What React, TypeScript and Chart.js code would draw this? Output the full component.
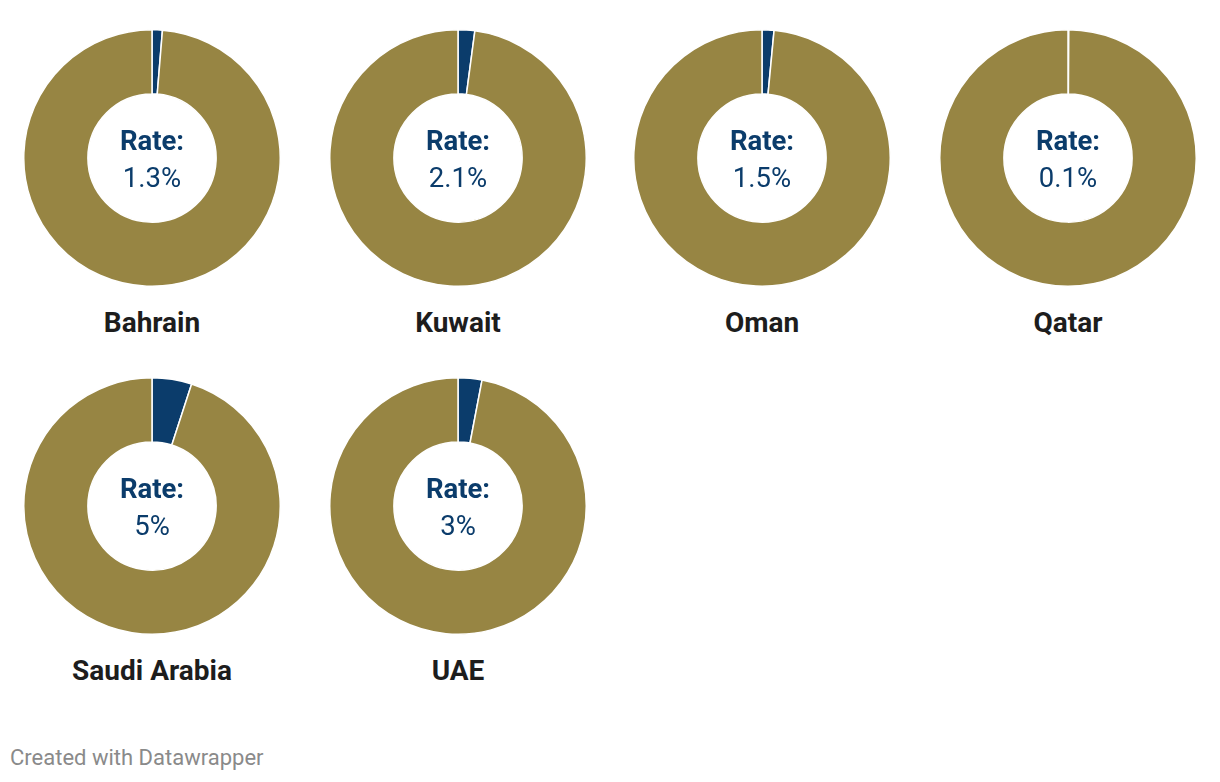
import React, { useEffect, useRef } from "react";
import { Chart, registerables } from "chart.js";

Chart.register(...registerables);

const countries = ["Bahrain", "Kuwait", "Oman", "Qatar", "Saudi Arabia", "UAE"];
const rates = [1.3, 2.1, 1.5, 0.1, 5, 3];
const rateLabels = ["1.3%", "2.1%", "1.5%", "0.1%", "5%", "3%"];
const sliceLabels = ["Rate", "Rest"];

const BLUE = "#0b3c6b";
const OLIVE = "#978543";

const colX = [152, 458, 762, 1068];
const rowY = [158, 506];
const R = 128;

function Donut({ idx }: { idx: number }) {
  const ref = useRef<HTMLCanvasElement | null>(null);
  useEffect(() => {
    if (!ref.current) return;
    const chart = new Chart(ref.current, {
      type: "doughnut",
      data: {
        labels: sliceLabels,
        datasets: [
          {
            data: [rates[idx], 100 - rates[idx]],
            backgroundColor: [BLUE, OLIVE],
            borderColor: "#ffffff",
            borderWidth: 1.5,
            hoverOffset: 0,
          },
        ],
      },
      options: {
        animation: false,
        responsive: false,
        cutout: "50%",
        layout: { padding: 0 },
        plugins: { legend: { display: false }, tooltip: { enabled: false } },
        events: [],
      },
    });
    return () => chart.destroy();
  }, [idx]);
  const cx = colX[idx % 4];
  const cy = rowY[Math.floor(idx / 4)];
  const size = R * 2 + 2;
  return (
    <>
      <canvas
        ref={ref}
        width={size}
        height={size}
        style={{ position: "absolute", left: cx - size / 2, top: cy - size / 2, width: size, height: size }}
      />
      <div
        style={{
          position: "absolute",
          left: cx - 80,
          width: 160,
          top: cy - 36.5,
          textAlign: "center",
          color: BLUE,
          fontFamily: "Roboto, sans-serif",
          fontSize: 27.5,
          lineHeight: "37px",
        }}
      >
        <div style={{ fontWeight: 700 }}>Rate:</div>
        <div style={{ fontWeight: 400 }}>{rateLabels[idx]}</div>
      </div>
      <div
        style={{
          position: "absolute",
          left: cx - 150,
          width: 300,
          top: cy + 149,
          textAlign: "center",
          color: "#1d1d1d",
          fontFamily: "Roboto, sans-serif",
          fontWeight: 700,
          fontSize: 28,
          lineHeight: "32px",
        }}
      >
        {countries[idx]}
      </div>
    </>
  );
}

export default function App() {
  return (
    <div style={{ position: "absolute", left: 0, top: 0, width: 1220, height: 782, background: "#fff", overflow: "hidden" }}>
      {countries.map((_, i) => (
        <Donut key={i} idx={i} />
      ))}
      <div
        style={{
          position: "absolute",
          left: 10,
          top: 746,
          fontFamily: "Roboto, sans-serif",
          fontSize: 22,
          color: "#8a8a8a",
          lineHeight: "24px",
        }}
      >
        Created with Datawrapper
      </div>
    </div>
  );
}
